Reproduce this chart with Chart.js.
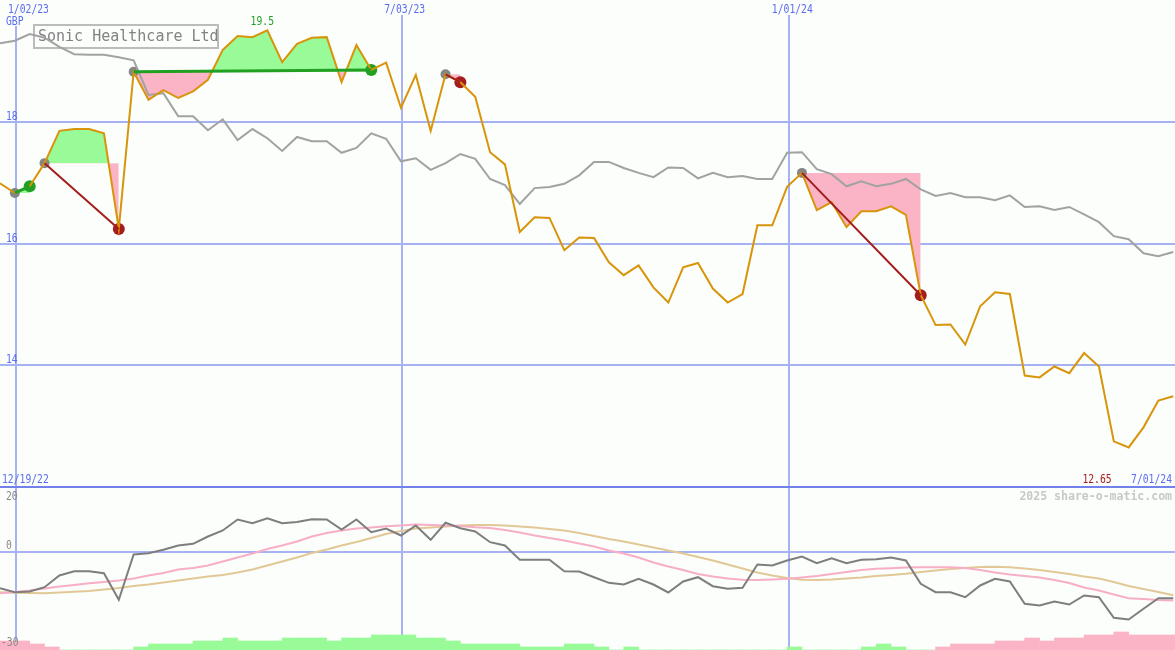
<!DOCTYPE html>
<html>
<head>
<meta charset="utf-8">
<script src="https://cdn.jsdelivr.net/npm/chart.js@4.4.1/dist/chart.umd.min.js"></script>
<style>
  body { margin: 0; background: #fbfefb; }
  #wrap { position: relative; width: 1175px; height: 650px; overflow: hidden; }
  #topChart { position: absolute; left: 0; top: 0; }
  #botChart { position: absolute; left: 0; top: 487px; }
</style>
</head>
<body>
<div id="wrap">
  <canvas id="topChart" width="1175" height="487"></canvas>
  <canvas id="botChart" width="1175" height="163"></canvas>
</div>
<script>
// weekly closes, week 0 = 12/26/22
var price = [16.99,16.83,16.94,17.32,17.85,17.88,17.88,17.81,16.24,18.82,
  18.36,18.52,18.39,18.50,18.69,19.18,19.41,19.39,19.50,18.98,
  19.28,19.38,19.39,18.65,19.26,18.85,18.97,18.23,18.77,17.85,
  18.78,18.65,18.41,17.50,17.30,16.19,16.43,16.42,15.89,16.10,
  16.09,15.69,15.48,15.64,15.28,15.03,15.61,15.68,15.26,15.03,
  15.17,16.30,16.30,16.93,17.16,16.55,16.68,16.27,16.53,16.53,
  16.61,16.47,15.15,14.66,14.67,14.34,14.97,15.20,15.17,13.83,
  13.80,13.98,13.87,14.20,13.98,12.75,12.65,12.98,13.42,13.49];

// market index, rescaled to the price
var market = [19.29,19.33,19.44,19.38,19.23,19.11,19.10,19.10,19.06,19.01,
  18.44,18.47,18.09,18.09,17.86,18.04,17.70,17.88,17.73,17.52,
  17.75,17.68,17.68,17.49,17.57,17.81,17.72,17.35,17.40,17.21,
  17.32,17.47,17.39,17.06,16.96,16.65,16.91,16.93,16.98,17.12,
  17.34,17.34,17.24,17.16,17.09,17.25,17.24,17.07,17.16,17.09,
  17.11,17.06,17.06,17.49,17.50,17.22,17.14,16.94,17.02,16.94,
  16.98,17.06,16.89,16.78,16.83,16.76,16.76,16.71,16.79,16.60,
  16.61,16.55,16.60,16.48,16.35,16.12,16.07,15.84,15.79,15.86];

var momentum = [-11.04,-12.27,-12.06,-10.74,-7.15,-5.83,-5.83,-6.44,-14.60,-0.71,
  -0.31,0.74,2.06,2.58,4.82,6.66,10.03,8.90,10.43,8.90,
  9.26,10.12,10.03,6.96,10.03,6.13,7.27,5.12,8.19,3.80,
  9.02,7.36,6.35,3.07,2.06,-2.33,-2.33,-2.33,-5.83,-5.92,
  -7.67,-9.39,-9.91,-8.16,-9.91,-12.36,-8.99,-7.67,-10.43,-11.23,
  -10.92,-3.77,-4.08,-2.55,-1.32,-3.37,-1.84,-3.37,-2.33,-2.15,
  -1.63,-2.55,-9.69,-12.27,-12.27,-13.80,-10.21,-8.16,-8.99,-15.83,
  -16.35,-15.12,-16.04,-13.28,-13.80,-20.12,-20.64,-17.36,-14.11,-14.11];

var momFast = [-12.58,-12.21,-11.75,-11.13,-10.52,-10.06,-9.54,-9.14,-8.68,-8.07,
  -7.15,-6.38,-5.31,-4.85,-4.08,-2.85,-1.63,-0.40,0.98,2.06,
  3.28,4.82,5.89,6.66,7.27,7.58,7.94,8.19,8.50,8.34,
  8.19,8.04,7.67,7.42,6.81,6.04,5.12,4.36,3.59,2.67,
  1.75,0.52,-0.40,-1.63,-3.16,-4.39,-5.46,-6.69,-7.45,-8.07,
  -8.47,-8.53,-8.37,-8.16,-7.76,-7.30,-6.69,-6.07,-5.46,-5.09,
  -4.91,-4.69,-4.60,-4.60,-4.60,-4.85,-5.46,-6.23,-6.84,-7.30,
  -7.76,-8.53,-9.45,-10.83,-11.75,-12.98,-14.11,-14.36,-14.66,-14.82];

var momSlow = [-12.27,-12.42,-12.52,-12.58,-12.36,-12.15,-11.90,-11.44,-10.98,-10.37,
  -9.91,-9.29,-8.68,-8.07,-7.45,-6.99,-6.23,-5.31,-4.08,-2.85,
  -1.63,-0.25,0.83,2.06,3.13,4.36,5.58,6.50,7.27,7.58,
  7.88,8.19,8.34,8.34,8.19,7.88,7.58,7.12,6.66,5.89,
  4.97,4.05,3.28,2.36,1.44,0.52,-0.40,-1.47,-2.55,-3.77,
  -5.00,-6.23,-7.15,-7.91,-8.47,-8.53,-8.37,-8.07,-7.76,-7.30,
  -6.99,-6.63,-6.07,-5.61,-5.15,-4.85,-4.54,-4.48,-4.60,-5.00,
  -5.46,-6.07,-6.69,-7.45,-8.07,-9.14,-10.37,-11.29,-12.21,-13.19];

// strength histogram, + green / - pink
var strength = [-3,-3,-2,-1,0,0,0,0,0,1,
  2,2,2,3,3,4,3,3,3,4,
  4,4,3,4,4,5,5,5,4,4,
  3,2,2,2,2,1,1,1,2,2,
  1,0,1,0,0,0,0,0,0,0,
  0,0,0,1,0,0,0,0,1,2,
  1,0,0,-1,-2,-2,-2,-3,-3,-4,
  -3,-4,-4,-5,-5,-6,-5,-5,-5,-5];

var entries = [1, 3, 9, 30, 54];
var exits = [2, 8, 25, 31, 62];

var gridWeeks = [1.08, 27.05, 53.15];
var gridDates = ['1/02/23', '7/03/23', '1/01/24'];
var startDate = '12/19/22';
var endDate = '7/01/24';
var priceTicks = [18, 16, 14];
var momTicks = [20, 0, -30];
var title = 'Sonic Healthcare Ltd';

var BG = '#fbfefb';
var GRID = '#a6b2f2';
var BLUE = '#5a6cf0';
var GREEN_FILL = '#98fb98';
var PINK_FILL = '#fbb4c6';
var WIN = '#22a022';
var LOSS = '#a41c1c';
var MONO = '"DejaVu Sans Mono", monospace';
var SMALL = '12px ' + MONO;   // squeezed horizontally to look like the bitmap font

function pts(arr, from, to) {
  var out = [];
  for (var i = from; i <= to; i++) out.push({ x: i, y: arr[i] });
  return out;
}

function text(ctx, s, x, y, color, align, font, sx) {
  sx = sx || 0.81;
  ctx.save();
  ctx.font = font || SMALL;
  ctx.fillStyle = color;
  ctx.textBaseline = 'alphabetic';
  ctx.textAlign = align || 'left';
  ctx.translate(x, y);
  ctx.scale(sx, 1);
  ctx.fillText(s, 0, 0);
  ctx.restore();
}

function textWidth(ctx, s, font, sx) {
  ctx.save();
  ctx.font = font || SMALL;
  var w = ctx.measureText(s).width * (sx || 0.81);
  ctx.restore();
  return w;
}

var xScale = { type: 'linear', min: 0, max: 79.12, offset: false, display: false };

// ---------- top panel ----------
var topSets = [];
for (var t = 0; t < entries.length; t++) {
  var a = entries[t], b = exits[t];
  var won = price[b] >= price[a];
  topSets.push({
    type: 'line', data: pts(price, a, b), order: 10,
    borderColor: 'rgba(0,0,0,0)', borderWidth: 0, pointRadius: 0,
    fill: { target: { value: price[a] }, above: GREEN_FILL, below: PINK_FILL }
  });
  topSets.push({
    type: 'line', data: [{ x: a, y: price[a] }, { x: b, y: price[b] }], order: 4,
    borderColor: won ? WIN : LOSS, borderWidth: won ? 3 : 2, pointRadius: 0, fill: false
  });
}
topSets.push({
  type: 'line', data: entries.map(function (i) { return { x: i, y: price[i] }; }), order: 8,
  showLine: false, pointRadius: 5, pointBackgroundColor: '#858585', pointBorderWidth: 0
});
topSets.push({
  type: 'line', data: exits.map(function (i) { return { x: i, y: price[i] }; }), order: 7,
  showLine: false, pointRadius: 6, pointBorderWidth: 0,
  pointBackgroundColor: exits.map(function (i, k) { return price[i] >= price[entries[k]] ? WIN : LOSS; })
});
topSets.push({
  type: 'line', data: pts(market, 0, market.length - 1), order: 6,
  borderColor: '#a2a2a2', borderWidth: 2, pointRadius: 0, fill: false
});
topSets.push({
  type: 'line', data: pts(price, 0, price.length - 1), order: 5,
  borderColor: '#d8940a', borderWidth: 2, pointRadius: 0, fill: false
});

var topPanel = {
  id: 'topPanel',
  beforeDatasetsDraw: function (chart) {
    var ctx = chart.ctx, xs = chart.scales.x, ys = chart.scales.y;
    ctx.save();
    ctx.fillStyle = GRID;
    priceTicks.forEach(function (v) {
      ctx.fillRect(0, Math.round(ys.getPixelForValue(v)) - 1, chart.width, 2);
    });
    gridWeeks.forEach(function (w) {
      ctx.fillRect(Math.round(xs.getPixelForValue(w)) - 1, 15, 2, chart.height - 15);
    });
    // title box sits under the lines
    ctx.strokeStyle = '#bcbcbc';
    ctx.lineWidth = 2;
    ctx.strokeRect(34, 25, 184, 23);
    text(ctx, title, 38, 41, '#828282', 'left', '15px ' + MONO, 1);
    ctx.restore();
  },
  afterDatasetsDraw: function (chart) {
    var ctx = chart.ctx, xs = chart.scales.x, ys = chart.scales.y;
    ctx.save();
    gridDates.forEach(function (d, k) {
      var w = textWidth(ctx, d);
      var left = Math.max(8, xs.getPixelForValue(gridWeeks[k]) + 3 - w / 2);
      text(ctx, d, left, 13, BLUE);
    });
    ctx.fillStyle = BG;
    ctx.fillRect(4, 15, 21, 11);
    text(ctx, 'GBP', 6, 25, BLUE);
    priceTicks.forEach(function (v) {
      text(ctx, String(v), 6, Math.round(ys.getPixelForValue(v)) - 2, BLUE);
    });
    var hi = 0, lo = 0;
    price.forEach(function (v, i) { if (v > price[hi]) hi = i; if (v < price[lo]) lo = i; });
    text(ctx, price[hi].toFixed(1), xs.getPixelForValue(hi) - 5, 25, WIN, 'center');
    text(ctx, price[lo].toFixed(2), xs.getPixelForValue(lo) - 17, 483, LOSS, 'right');
    text(ctx, startDate, 2, 483, BLUE);
    text(ctx, endDate, 1172, 483, BLUE, 'right');
    ctx.fillStyle = '#7282ea';
    ctx.fillRect(0, 486, chart.width, 1);
    ctx.restore();
  }
};

new Chart(document.getElementById('topChart'), {
  type: 'line',
  data: { datasets: topSets },
  options: {
    responsive: false, animation: false, devicePixelRatio: 1,
    layout: { padding: 0, autoPadding: false },
    elements: { line: { tension: 0 } },
    plugins: { legend: { display: false }, tooltip: { enabled: false } },
    scales: { x: xScale, y: { min: 12, max: 20, display: false } }
  },
  plugins: [topPanel]
});

// ---------- bottom panel ----------
var botPanel = {
  id: 'botPanel',
  beforeDatasetsDraw: function (chart) {
    var ctx = chart.ctx, xs = chart.scales.x, ys = chart.scales.y;
    ctx.save();
    ctx.fillStyle = GRID;
    ctx.fillRect(0, Math.round(ys.getPixelForValue(0)) - 1, chart.width, 2);
    gridWeeks.forEach(function (w) {
      ctx.fillRect(Math.round(xs.getPixelForValue(w)) - 1, 0, 2, chart.height);
    });
    ctx.restore();
  },
  afterDatasetsDraw: function (chart) {
    var ctx = chart.ctx, ys = chart.scales.y;
    ctx.save();
    ctx.fillStyle = '#7282ea';
    ctx.fillRect(0, 0, chart.width, 1);
    text(ctx, String(momTicks[0]), 6, ys.getPixelForValue(momTicks[0]) + 13, '#888888');
    text(ctx, String(momTicks[1]), 6, ys.getPixelForValue(momTicks[1]) - 3, '#888888');
    text(ctx, String(momTicks[2]), 1, ys.getPixelForValue(momTicks[2]) - 4, '#888888');
    text(ctx, '2025 share-o-matic.com', 1172, 13, '#c8c8c8', 'right', 'bold 12px ' + MONO, 0.96);
    ctx.restore();
  }
};

new Chart(document.getElementById('botChart'), {
  type: 'line',
  data: {
    datasets: [
      {
        type: 'bar', yAxisID: 'y3', order: 10,
        data: strength.map(function (v, i) { return { x: i + 0.5, y: Math.abs(v) }; }),
        backgroundColor: strength.map(function (v) { return v >= 0 ? GREEN_FILL : PINK_FILL; }),
        borderWidth: 0, barPercentage: 1, categoryPercentage: 1
      },
      { data: pts(momSlow, 0, 79), order: 3, borderColor: '#e2c896', borderWidth: 2, pointRadius: 0 },
      { data: pts(momFast, 0, 79), order: 2, borderColor: '#f7aec6', borderWidth: 2, pointRadius: 0 },
      { data: pts(momentum, 0, 79), order: 1, borderColor: '#7e7e7e', borderWidth: 2, pointRadius: 0 }
    ]
  },
  options: {
    responsive: false, animation: false, devicePixelRatio: 1,
    layout: { padding: 0, autoPadding: false },
    elements: { line: { tension: 0 } },
    plugins: { legend: { display: false }, tooltip: { enabled: false } },
    scales: {
      x: xScale,
      y: { min: -30, max: 20, display: false },
      y3: { min: 0, max: 54.33, display: false }
    }
  },
  plugins: [botPanel]
});
</script>
</body>
</html>
